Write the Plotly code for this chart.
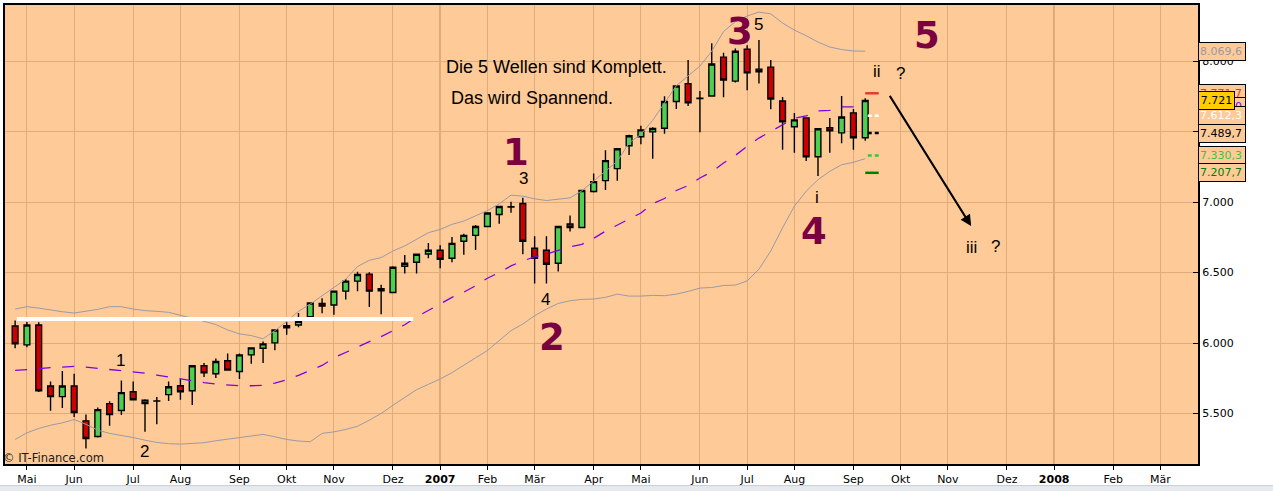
import pandas as pd
import plotly.graph_objects as go

# weekly candles, Apr 2006 - Sep 2007
weeks = pd.date_range("2006-04-24", periods=73, freq="7D")

week_open = [6121, 5987, 6128, 5695, 5620, 5695, 5448, 5337, 5570, 5521,
             5655, 5594, 5588, 5634, 5697, 5662, 5839, 5782, 5874, 5798,
             5916, 5963, 6001, 6109, 6128, 6187, 6281, 6270, 6368, 6439,
             6489, 6385, 6359, 6545, 6573, 6632, 6658, 6601, 6722, 6764,
             6827, 6912, 6965, 6990, 6672, 6658, 6566, 6844, 6820, 7075,
             7152, 7237, 7400, 7463, 7498, 7524, 7713, 7840, 7735, 7753,
             8028, 7858, 8084, 7943, 7957, 7717, 7534, 7597, 7322, 7527,
             7491, 7633, 7456]
week_high = [6160, 6150, 6147, 5728, 5801, 5782, 5493, 5542, 5587, 5735,
             5728, 5601, 5617, 5728, 5745, 5842, 5858, 5891, 5926, 5926,
             5968, 6011, 6095, 6147, 6213, 6286, 6317, 6370, 6455, 6505,
             6503, 6413, 6545, 6625, 6632, 6710, 6693, 6752, 6776, 6837,
             6924, 6971, 7002, 7030, 6757, 6757, 6829, 6905, 7084, 7202,
             7367, 7380, 7477, 7541, 7530, 7750, 7825, 8007, 7788, 8127,
             8059, 8089, 8113, 8150, 8007, 7746, 7632, 7599, 7522, 7597,
             7753, 7661, 7736]
week_low = [5963, 5971, 5653, 5519, 5540, 5476, 5252, 5330, 5413, 5490,
            5592, 5370, 5424, 5589, 5598, 5561, 5759, 5752, 5803, 5745,
            5853, 5858, 5949, 6058, 6112, 6185, 6211, 6201, 6309, 6368,
            6255, 6204, 6357, 6493, 6493, 6601, 6531, 6573, 6627, 6660,
            6825, 6846, 6924, 6630, 6423, 6423, 6507, 6792, 6818, 7068,
            7086, 7152, 7334, 7411, 7308, 7484, 7661, 7682, 7496, 7750,
            7743, 7849, 7793, 7842, 7658, 7371, 7350, 7291, 7185, 7350,
            7418, 7371, 7435]
week_close = [5994, 6128, 5662, 5620, 5695, 5507, 5323, 5528, 5492, 5648,
              5598, 5570, 5590, 5690, 5655, 5839, 5789, 5869, 5808, 5916,
              5966, 5994, 6093, 6123, 6154, 6284, 6262, 6368, 6439, 6486,
              6368, 6371, 6538, 6566, 6630, 6658, 6594, 6707, 6764, 6827,
              6922, 6969, 6967, 6722, 6601, 6559, 6827, 6820, 7082, 7145,
              7294, 7378, 7470, 7512, 7522, 7713, 7823, 7705, 7737, 7979,
              7866, 8070, 7917, 7924, 7731, 7569, 7583, 7322, 7520, 7505,
              7604, 7456, 7721]

# bollinger bands and middle average
band_upper = [6241, 6258, 6248, 6234, 6222, 6213, 6225, 6239, 6258, 6258,
              6241, 6230, 6225, 6218, 6197, 6178, 6154, 6131, 6093, 6065,
              6053, 6030, 6088, 6154, 6225, 6277, 6336, 6400, 6453, 6543,
              6587, 6606, 6653, 6689, 6736, 6783, 6806, 6842, 6865, 6905,
              6940, 6987, 7049, 7042, 7023, 7011, 7018, 7030, 7080, 7150,
              7220, 7289, 7420, 7480, 7580, 7700, 7825, 7895, 7965, 8070,
              8210, 8280, 8320, 8348, 8335, 8270, 8220, 8180, 8135, 8100,
              8082, 8072, 8070]
band_lower = [5316, 5363, 5394, 5417, 5434, 5457, 5424, 5382, 5359, 5347,
              5330, 5311, 5295, 5286, 5283, 5288, 5293, 5307, 5319, 5326,
              5340, 5352, 5335, 5316, 5305, 5300, 5359, 5370, 5387, 5410,
              5453, 5500, 5559, 5617, 5669, 5707, 5745, 5790, 5845, 5895,
              5947, 6018, 6088, 6135, 6194, 6241, 6281, 6300, 6310, 6312,
              6324, 6347, 6333, 6333, 6338, 6336, 6347, 6366, 6390, 6394,
              6408, 6411, 6441, 6524, 6653, 6818, 6971, 7077, 7159, 7218,
              7265, 7282, 7308]
band_mid = [5806, 5810, 5818, 5825, 5829, 5834, 5829, 5820, 5813, 5806,
            5796, 5787, 5773, 5759, 5745, 5731, 5719, 5709, 5702, 5697,
            5697, 5700, 5716, 5740, 5771, 5806, 5841, 5895, 5935, 5973,
            6010, 6045, 6090, 6130, 6185, 6230, 6275, 6324, 6361, 6406,
            6460, 6500, 6547, 6583, 6611, 6630, 6658, 6682, 6700, 6743,
            6794, 6838, 6882, 6922, 6988, 7025, 7082, 7117, 7171, 7214,
            7277, 7331, 7395, 7454, 7501, 7548, 7595, 7611, 7647, 7651,
            7675, 7675, 7675]

# support line drawn by hand
support_level = 6171
support_from, support_to = "2006-04-25", "2006-12-16"

# pivot levels next to the last candle
pivot_values = [7771.7, 7612.3, 7489.7, 7330.3, 7207.7]
pivot_colors = ["#e23b2e", "#ffffff", "#000000", "#3cc23c", "#008000"]
pivot_dashed = [False, True, True, True, False]
pivot_from, pivot_to = "2007-09-10", "2007-09-18"
upper_label = 8069.6
last_price = 7721

# x axis months
month_ticks = ["2006-05-01", "2006-05-29", "2006-07-03", "2006-07-31", "2006-09-04",
               "2006-10-02", "2006-10-30", "2006-12-04", "2007-01-01", "2007-01-29",
               "2007-02-26", "2007-04-02", "2007-04-30", "2007-06-04", "2007-07-02",
               "2007-07-30", "2007-09-03", "2007-10-01", "2007-10-29", "2007-12-03",
               "2007-12-31", "2008-02-04", "2008-03-03"]
month_names = ["Mai", "Jun", "Jul", "Aug", "Sep", "Okt", "Nov", "Dez", "<b>2007</b>", "Feb",
               "Mär", "Apr", "Mai", "Jun", "Jul", "Aug", "Sep", "Okt", "Nov", "Dez",
               "<b>2008</b>", "Feb", "Mär"]
year_lines = ["2007-01-01", "2007-12-31"]
price_ticks = [5500, 6000, 6500, 7000, 7500, 8000]

# elliott wave labels
big_text = ["1", "2", "3", "4", "5"]
big_x = ["2007-02-15", "2007-03-08", "2007-06-27 18:00", "2007-08-10 14:00", "2007-10-16 16:00"]
big_y = [7352, 6039, 8212, 6794, 8184]
small_text = ["1", "2", "3", "4", "5", "i", "ii", "?", "iii", "?"]
small_x = ["2006-06-25 05:00", "2006-07-09 17:00", "2007-02-19 07:00", "2007-03-04 05:00",
           "2007-07-08 22:00", "2007-08-12 14:00", "2007-09-17", "2007-09-30 22:00",
           "2007-11-12", "2007-11-26 05:00"]
small_y = [5877, 5229, 7167, 6312, 8258, 7030, 7925, 7915, 6677, 6682]

BG = "#fecb98"
GRID = "#e2ab7a"
MAROON = "#7a0040"


def de(v, dec=1):
    s = f"{v:,.{dec}f}"
    return s.replace(",", "#").replace(".", ",").replace("#", ".")


fig = go.Figure()

fig.add_trace(go.Scatter(x=weeks, y=band_upper, mode="lines",
                         line=dict(color="#9a9aa6", width=1), hoverinfo="skip"))
fig.add_trace(go.Scatter(x=weeks, y=band_lower, mode="lines",
                         line=dict(color="#9a9aa6", width=1), hoverinfo="skip"))
fig.add_trace(go.Scatter(x=weeks, y=band_mid, mode="lines",
                         line=dict(color="#8000e0", width=1.3, dash="12px,11.6px"), hoverinfo="skip"))

fig.add_trace(go.Scatter(x=[support_from, support_to], y=[support_level, support_level], mode="lines",
                         line=dict(color="white", width=4), hoverinfo="skip"))

for val, col, dashed in zip(pivot_values, pivot_colors, pivot_dashed):
    start = "2007-09-11 12:00" if dashed else pivot_from
    fig.add_trace(go.Scatter(x=[start, pivot_to], y=[val, val], mode="lines",
                             line=dict(color=col, width=2.5, dash="4px,3px" if dashed else "solid"),
                             hoverinfo="skip"))

fig.add_trace(go.Candlestick(
    x=weeks, open=week_open, high=week_high, low=week_low, close=week_close,
    increasing=dict(fillcolor="#4dd050", line=dict(color="black", width=1.4)),
    decreasing=dict(fillcolor="#cc0000", line=dict(color="black", width=1.4)),
    whiskerwidth=0, hoverinfo="skip"))

ann = []
ann.append(dict(x="2007-01-03", y=7960, text="Die 5 Wellen sind Komplett.", xanchor="left",
                showarrow=False, font=dict(family="Liberation Sans", size=18, color="black")))
ann.append(dict(x="2007-01-06 12:00", y=7735, text="Das wird Spannend.", xanchor="left",
                showarrow=False, font=dict(family="Liberation Sans", size=18, color="black")))
for t, x, y in zip(big_text, big_x, big_y):
    ann.append(dict(x=x, y=y, text=f"<b>{t}</b>", showarrow=False,
                    font=dict(family="DejaVu Sans", size=37, color=MAROON)))
for t, x, y in zip(small_text, small_x, small_y):
    ann.append(dict(x=x, y=y, text=t, showarrow=False,
                    font=dict(family="Liberation Sans", size=17, color="black")))
ann.append(dict(x="2007-11-11 19:00", y=6830, ax="2007-09-24", ay=7764, axref="x", ayref="y",
                text="", showarrow=True, arrowhead=2, arrowsize=1.1, arrowwidth=2,
                arrowcolor="black", standoff=0))
ann.append(dict(xref="paper", yref="paper", x=-0.003, y=0.013, xanchor="left", yanchor="middle",
                text="© IT-Finance.com", showarrow=False,
                font=dict(family="DejaVu Sans", size=11.5, color="#1a1a1a")))

# value boxes on the right axis
box = dict(xref="paper", x=1.0, xanchor="left", showarrow=False, bgcolor=BG,
           bordercolor="black", borderwidth=1, borderpad=1, width=44, height=15, align="left")
ann.append(dict(box, y=upper_label, text=de(upper_label),
                font=dict(family="DejaVu Sans", size=11, color="#9a9aa6")))
ann.append(dict(box, y=pivot_values[0], text=de(pivot_values[0]),
                font=dict(family="DejaVu Sans", size=11, color=pivot_colors[0])))
ann.append(dict(box, y=band_mid[-1], text=de(band_mid[-1]),
                font=dict(family="DejaVu Sans", size=11, color="#8000e0")))
for val, col in zip(pivot_values[1:], pivot_colors[1:]):
    ann.append(dict(box, y=val, text=de(val), font=dict(family="DejaVu Sans", size=11, color=col)))
ann.append(dict(xref="paper", x=1.0, xanchor="left", y=last_price, text=de(last_price, 0),
                showarrow=False, bgcolor="#ffcc00", bordercolor="black", borderwidth=1,
                borderpad=1, width=33, height=15,
                font=dict(family="DejaVu Sans", size=11, color="black")))

shapes = []
for d in year_lines:
    shapes.append(dict(type="line", x0=d, x1=d, yref="paper", y0=0, y1=1, layer="between",
                       line=dict(color="#b9834f", width=1.2)))
shapes.append(dict(type="rect", xref="paper", yref="paper", x0=-0.01, x1=1.08, y0=-0.047, y1=-0.08,
                   fillcolor="#e6e9ee", line=dict(color="#c9ced6", width=1), layer="above"))

fig.update_layout(
    width=1273, height=491,
    margin=dict(l=3, r=75, t=3, b=27),
    paper_bgcolor="white", plot_bgcolor=BG,
    showlegend=False, hovermode=False,
    annotations=ann, shapes=shapes,
    xaxis=dict(type="date", range=["2006-04-18", "2008-03-25 07:00"],
               tickmode="array", tickvals=month_ticks, ticktext=month_names,
               showgrid=True, gridcolor=GRID, gridwidth=1,
               ticks="outside", ticklen=4, tickcolor="black",
               tickfont=dict(family="DejaVu Sans", size=11, color="black"),
               showline=True, mirror=True, linecolor="black", linewidth=2,
               zeroline=False, rangeslider=dict(visible=False), fixedrange=True),
    yaxis=dict(side="right", range=[5142, 8398],
               tickmode="array", tickvals=price_ticks, ticktext=[de(v, 0) for v in price_ticks],
               showgrid=True, gridcolor=GRID, gridwidth=1,
               ticks="inside", ticklen=5, tickcolor="black",
               tickfont=dict(family="DejaVu Sans", size=11, color="black"),
               showline=True, mirror=True, linecolor="black", linewidth=2,
               zeroline=False, fixedrange=True),
)

fig.write_html("out.html", config={"displayModeBar": False},
               post_script="document.body.style.margin='0';")
